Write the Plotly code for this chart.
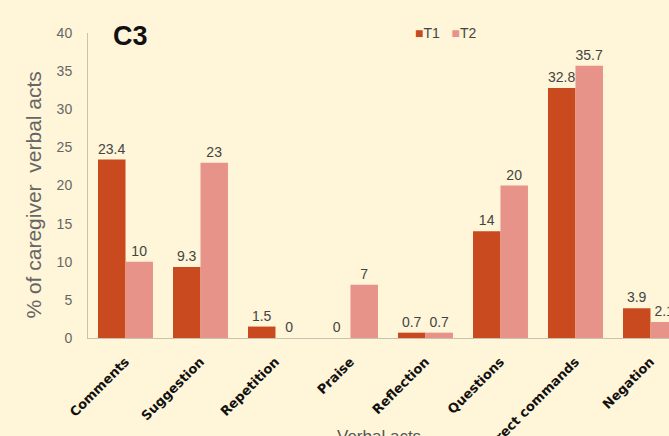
import plotly.graph_objects as go

# Verbal act categories and the share of caregiver verbal acts (%) at each time point
categories = ["Comments", "Suggestion", "Repetition", "Praise", "Reflection",
              "Questions", "Direct commands", "Negation"]
t1_values = [23.4, 9.3, 1.5, 0, 0.7, 14, 32.8, 3.9]
t2_values = [10, 23, 0, 7, 0.7, 20, 35.7, 2.1]
series_names = ["T1", "T2"]
series_colors = ["#C84A1E", "#E8938A"]
y_ticks = [0, 5, 10, 15, 20, 25, 30, 35, 40]

BG = "#FFF5D8"
LABEL_FONT = dict(family="Liberation Sans, Arial, sans-serif", size=14, color="#444444")

fig = go.Figure()
for name, vals, col in zip(series_names, [t1_values, t2_values], series_colors):
    fig.add_trace(go.Bar(
        x=categories, y=vals, name=name,
        marker=dict(color=col, line=dict(width=0)),
        text=[f"{v:g}" for v in vals], textposition="outside",
        textfont=LABEL_FONT, cliponaxis=True, showlegend=False,
    ))

# Compact legend line: coloured square + series name
legend_html = "&nbsp;&nbsp;&nbsp;".join(
    f"<span style='color:{c}'>■</span>{n}" for n, c in zip(series_names, series_colors)
)

fig.update_layout(
    width=669, height=436,
    paper_bgcolor=BG, plot_bgcolor=BG,
    margin=dict(l=88, r=0, t=33, b=98),
    barmode="group", bargap=0.267, bargroupgap=0,
    font=dict(family="Liberation Sans, Arial, sans-serif", color="#555555"),
    xaxis=dict(
        type="category", range=[-0.5, 7.247],
        showline=True, linecolor="#C8C2B0", linewidth=1,
        showgrid=False, zeroline=False,
        ticks="outside", ticklen=10, tickcolor="rgba(0,0,0,0)",
        tickangle=-45,
        tickfont=dict(family="DejaVu Sans, Verdana, sans-serif", size=13,
                      color="#111111", weight="bold"),
        automargin=False,
    ),
    yaxis=dict(
        range=[0, 40], tickvals=y_ticks,
        showline=True, linecolor="#C8C2B0", linewidth=1,
        showgrid=False, zeroline=False,
        ticks="outside", ticklen=12, tickcolor="rgba(0,0,0,0)",
        tickfont=dict(family="Liberation Sans Narrow, Liberation Sans, Arial, sans-serif",
                      size=14, color="#666666"),
        automargin=False,
    ),
    annotations=[
        dict(text="% of caregiver  verbal acts", xref="paper", yref="paper",
             x=-0.093, y=0.47, xanchor="center", yanchor="middle", textangle=-90,
             showarrow=False, font=dict(size=21, color="#666666")),
        dict(text="<b>C3</b>", xref="paper", yref="paper", x=0.04, y=0.99,
             xanchor="left", yanchor="middle", showarrow=False,
             font=dict(size=27, color="#111111")),
        dict(text=legend_html, xref="paper", yref="paper", x=0.56, y=1.0,
             xanchor="left", yanchor="middle", showarrow=False,
             font=dict(size=14, color="#444444")),
        dict(text="Verbal acts", xref="paper", yref="paper", x=0.5, y=-0.285,
             xanchor="center", yanchor="top", showarrow=False,
             font=dict(size=17, color="#555555")),
    ],
)

fig.write_html("out.html")
